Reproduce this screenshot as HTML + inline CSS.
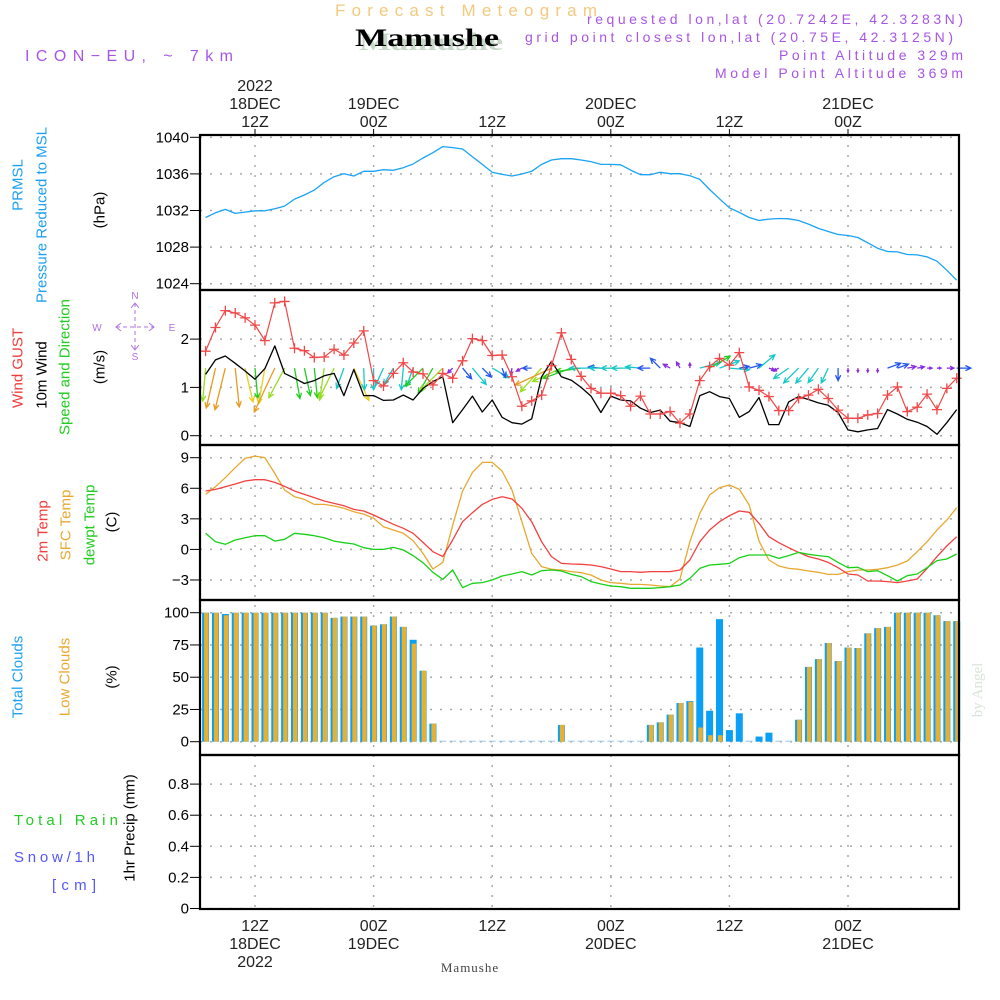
<!DOCTYPE html>
<html><head><meta charset="utf-8"><style>
html,body{margin:0;padding:0;background:#fff;width:1000px;height:1000px;overflow:hidden}
svg{display:block}
text{font-family:"Liberation Sans",sans-serif}
</style></head><body>
<svg id="chart" width="1000" height="1000" viewBox="0 0 1000 1000" xmlns="http://www.w3.org/2000/svg">
<g>
<text x="335" y="16" font-size="17" fill="#f2c97e" textLength="262" lengthAdjust="spacing">Forecast Meteogram</text>
<text x="429" y="48" font-size="25" font-weight="bold" text-anchor="middle" fill="#c8d8c8" style="font-family:'Liberation Serif',serif" textLength="144" lengthAdjust="spacingAndGlyphs" dx="2" dy="2">Mamushe</text>
<text x="427" y="46" font-size="25" font-weight="bold" text-anchor="middle" fill="#000" style="font-family:'Liberation Serif',serif" textLength="144" lengthAdjust="spacingAndGlyphs">Mamushe</text>
<text x="25" y="61" font-size="16" fill="#a855e6" textLength="208" lengthAdjust="spacing">ICON−EU, ~ 7km</text>
<text x="963" y="24" font-size="14" fill="#a855e6" text-anchor="end" textLength="376" lengthAdjust="spacing">requested lon,lat (20.7242E, 42.3283N)</text>
<text x="953" y="42" font-size="14" fill="#a855e6" text-anchor="end" textLength="428" lengthAdjust="spacing">grid point closest lon,lat (20.75E, 42.3125N)</text>
<text x="963" y="60" font-size="14" fill="#a855e6" text-anchor="end" textLength="184" lengthAdjust="spacing">Point Altitude 329m</text>
<text x="963" y="78" font-size="14" fill="#a855e6" text-anchor="end" textLength="248" lengthAdjust="spacing">Model Point Altitude 369m</text>
</g>
<g font-size="15">
<text transform="translate(18,185) rotate(-90)" text-anchor="middle" dominant-baseline="central" fill="#1ea0f0">PRMSL</text>
<text transform="translate(42,215) rotate(-90)" text-anchor="middle" dominant-baseline="central" fill="#1ea0f0">Pressure Reduced to MSL</text>
<text transform="translate(100,210) rotate(-90)" text-anchor="middle" dominant-baseline="central" fill="#000">(hPa)</text>
<text transform="translate(18,368) rotate(-90)" text-anchor="middle" dominant-baseline="central" fill="#f03c3c">Wind GUST</text>
<text transform="translate(42,375) rotate(-90)" text-anchor="middle" dominant-baseline="central" fill="#000">10m Wind</text>
<text transform="translate(65,367) rotate(-90)" text-anchor="middle" dominant-baseline="central" fill="#22cc22">Speed and Direction</text>
<text transform="translate(100,367) rotate(-90)" text-anchor="middle" dominant-baseline="central" fill="#000">(m/s)</text>
<text transform="translate(43,531) rotate(-90)" text-anchor="middle" dominant-baseline="central" fill="#f03c3c">2m Temp</text>
<text transform="translate(66,525) rotate(-90)" text-anchor="middle" dominant-baseline="central" fill="#e8a830">SFC Temp</text>
<text transform="translate(90,525) rotate(-90)" text-anchor="middle" dominant-baseline="central" fill="#22cc22">dewpt Temp</text>
<text transform="translate(112,522) rotate(-90)" text-anchor="middle" dominant-baseline="central" fill="#000">(C)</text>
<text transform="translate(18,677) rotate(-90)" text-anchor="middle" dominant-baseline="central" fill="#1ea0f0">Total Clouds</text>
<text transform="translate(65,677) rotate(-90)" text-anchor="middle" dominant-baseline="central" fill="#e8a830">Low Clouds</text>
<text transform="translate(112,677) rotate(-90)" text-anchor="middle" dominant-baseline="central" fill="#000">(%)</text>
<text x="14" y="825" fill="#22cc22" textLength="104" lengthAdjust="spacing">Total   Rain</text>
<text x="14" y="862" fill="#5555ff" textLength="81" lengthAdjust="spacing">Snow/1h</text>
<text x="52" y="890" fill="#5555ff" textLength="44" lengthAdjust="spacing">[cm]</text>
<text transform="translate(130,828) rotate(-90)" text-anchor="middle" dominant-baseline="central" fill="#000">1hr Precip (mm)</text>
</g>
<g stroke="#b070e0" stroke-width="1" fill="none">
<line x1="116" y1="327" x2="154" y2="327" stroke-dasharray="4,3"/>
<line x1="135" y1="303" x2="135" y2="350" stroke-dasharray="4,3"/>
<polyline points="121,323 116,327 121,331"/><polyline points="149,323 154,327 149,331"/>
<polyline points="131,308 135,303 139,308"/><polyline points="131,345 135,350 139,345"/>
</g>
<g font-size="10" fill="#b070e0">
<text x="135" y="299" text-anchor="middle">N</text>
<text x="135" y="360" text-anchor="middle">S</text>
<text x="97" y="331" text-anchor="middle">W</text>
<text x="172" y="331" text-anchor="middle">E</text>
</g>
<text x="470" y="972" font-size="13" text-anchor="middle" fill="#444" style="font-family:'Liberation Serif',serif" letter-spacing="1">Mamushe</text>
<text transform="translate(978,690) rotate(-90)" text-anchor="middle" dominant-baseline="central" font-size="15" fill="#d8e4d8" style="font-family:'Liberation Serif',serif">by Angel</text>
</svg>
<script>
// hours since 00Z 18DEC, 07Z .. 83Z
const hours = [];
for (let h = 7; h <= 83; h++) hours.push(h);
const pressure = [1031.24,1031.75,1032.12,1031.68,1031.82,1031.97,1031.97,1032.2,1032.48,1033.25,
1033.69,1034.23,1035.07,1035.69,1036.02,1035.77,1036.28,1036.28,1036.46,1036.39,
1036.68,1037.08,1037.74,1038.32,1038.98,1038.87,1038.72,1037.88,1037.04,1036.17,
1035.95,1035.77,1035.99,1036.28,1037.04,1037.52,1037.66,1037.66,1037.52,1037.34,
1037.04,1037.04,1037.0,1036.42,1035.91,1035.91,1036.17,1036.02,1036.02,1035.8,
1035.4,1034.3,1033.28,1032.3,1031.79,1031.24,1030.91,1031.06,1031.13,1031.09,
1030.91,1030.51,1030.04,1029.71,1029.38,1029.27,1029.05,1028.47,1027.88,1027.52,
1027.48,1027.19,1027.15,1026.93,1026.46,1025.47,1024.38];
const gust = [1.75,2.24,2.59,2.54,2.44,2.29,1.97,2.75,2.78,1.81,
1.76,1.62,1.63,1.79,1.67,1.92,2.17,1.14,1.03,1.29,
1.51,1.32,1.28,1.05,1.29,1.19,1.55,2.01,1.97,1.66,
1.67,1.22,0.61,0.72,0.84,1.45,2.13,1.58,1.23,0.98,
0.88,0.88,0.83,0.61,0.82,0.45,0.45,0.50,0.26,0.45,
1.14,1.43,1.6,1.46,1.72,1.01,0.94,0.81,0.52,0.52,
0.77,0.84,0.96,0.77,0.53,0.36,0.36,0.43,0.46,0.84,
1.01,0.5,0.59,0.86,0.54,0.98,1.19];
const wind = [1.27,1.57,1.65,1.5,1.34,1.17,1.39,1.86,1.29,1.19,
1.08,1.14,1.24,1.29,0.83,1.37,0.83,0.83,0.73,0.74,
0.84,0.74,0.98,1.12,1.22,0.27,0.54,0.82,0.49,0.74,
0.38,0.27,0.24,0.35,1.22,1.54,1.22,1.15,1.0,0.82,
0.48,0.82,0.74,0.72,0.57,0.48,0.53,0.30,0.27,0.19,
0.83,0.91,0.81,0.77,0.38,0.5,0.79,0.23,0.23,0.7,
0.81,0.75,0.68,0.63,0.48,0.12,0.08,0.12,0.15,0.54,
0.45,0.34,0.28,0.19,0.03,0.27,0.54];
// bearing the arrow points to (deg, 0 = up/north, 90 = right/east)
const windDir = [185,193,194,174,167,175,190,205,208,170,
168,174,188,206,200,155,178,180,205,210,
185,200,225,210,225,225,140,140,135,120,
160,190,240,270,222,245,245,250,262,270,
275,270,270,270,275,270,315,300,330,0,
75,60,70,95,80,75,50,110,240,235,
225,220,215,205,180,180,180,180,180,70,
70,80,80,90,90,90,90];
const temp2m = [5.73,5.89,6.15,6.42,6.71,6.84,6.84,6.58,6.19,5.73,
5.40,5.08,4.75,4.52,4.29,3.93,3.77,3.38,2.92,2.46,
2.07,1.58,0.69,-0.22,-0.71,0.92,2.72,3.6,4.42,4.91,
5.17,4.95,4.03,2.72,0.76,-0.71,-1.37,-1.43,-1.46,-1.53,
-1.69,-1.92,-2.18,-2.18,-2.25,-2.18,-2.18,-2.18,-2.02,-1.04,
0.76,1.9,2.72,3.31,3.77,3.64,2.56,1.25,0.66,0.17,
-0.29,-0.71,-0.94,-1.27,-1.79,-2.41,-2.51,-3.1,-3.1,-3.16,
-3.26,-3.1,-2.9,-1.86,-0.71,0.33,1.25];
const tempSfc = [5.4,6.15,7.04,8.02,8.93,9.16,9.0,7.46,5.83,5.17,
4.91,4.42,4.42,4.26,4.03,3.70,3.47,3.05,2.23,1.9,
1.58,0.86,-0.39,-1.92,-1.27,2.39,5.73,7.56,8.54,8.54,
7.69,5.83,2.72,-0.39,-1.69,-1.95,-2.02,-2.18,-2.28,-2.51,
-3.0,-3.26,-3.33,-3.43,-3.43,-3.49,-3.59,-3.66,-2.9,0.76,
3.54,5.34,6.06,6.32,5.89,4.36,0.82,-1.04,-1.63,-1.86,
-1.95,-2.12,-2.25,-2.45,-2.45,-2.18,-2.02,-2.02,-1.95,-1.79,
-1.53,-1.14,-0.22,0.76,1.9,2.88,4.09];
const dewpt = [1.58,0.76,0.5,0.92,1.15,1.35,1.35,0.82,0.99,1.58,
1.48,1.35,1.15,0.82,0.66,0.53,0.17,0.0,0.0,0.2,
-0.06,-0.61,-1.3,-2.25,-2.94,-2.02,-3.75,-3.33,-3.26,-3.0,
-2.61,-2.41,-2.18,-2.51,-2.09,-2.02,-2.12,-2.45,-2.67,-3.16,
-3.39,-3.59,-3.66,-3.82,-3.82,-3.82,-3.75,-3.66,-3.49,-2.84,
-1.86,-1.53,-1.46,-1.37,-0.81,-0.55,-0.55,-0.55,-0.88,-0.61,
-0.29,-0.48,-0.61,-0.71,-1.27,-1.79,-1.76,-2.18,-2.09,-2.58,
-3.1,-2.58,-2.41,-1.79,-1.1,-0.94,-0.45];
const totalClouds = [100,100,99,100,100,100,100,100,100,100,
100,100,100,96,97,97,97,90,91,97,
89,79,55,14,0,0,0,0,0,0,
0,0,0,0,0,0,13,0,0,0,
0,0,0,0,0,13,15,21,30,31.5,
73,24,95,9,22,0,4,7,0,0,
17,58,64,76.5,62.5,73,72.6,84,88,89,
100,100,100,100,98,93.5,93.5];
const lowClouds = [100,100,98,100,100,100,100,100,100,100,
100,100,100,96,97,97,97,90,91,97,
89,76,55,14,0,0,0,0,0,0,
0,0,0,0,0,0,13,0,0,0,
0,0,0,0,0,13,15,21,30,31,
11,5,5,0,0,0,0,0,0,0,
17,58,64,76.5,62.5,73,72.6,84,88,89,
100,100,100,100,98,93.5,93.5];
const precip = hours.map(() => 0);
const pressureTicks = [1024,1028,1032,1036,1040];
const windTicks = [0,1,2];
const tempTicks = [-3,0,3,6,9];
const cloudTicks = [0,25,50,75,100];
const precipTicks = [0,0.2,0.4,0.6,0.8];
const precipTickLabels = ['0','0.2','0.4','0.6','0.8'];
const timeTicks = [12,24,36,48,60,72];
const timeTopLabels = [['2022','18DEC','12Z'],['','19DEC','00Z'],['','','12Z'],['','20DEC','00Z'],['','','12Z'],['','21DEC','00Z']];
const timeBottomLabels = [['12Z','18DEC','2022'],['00Z','19DEC',''],['12Z','',''],['00Z','20DEC',''],['12Z','',''],['00Z','21DEC','']];

const NS = 'http://www.w3.org/2000/svg';
const svg = document.getElementById('chart');
function mk(tag, attrs, parent) {
  const e = document.createElementNS(NS, tag);
  for (const k in attrs) e.setAttribute(k, attrs[k]);
  (parent || svg).appendChild(e);
  return e;
}
const X0 = 200, X1 = 959;
function xh(h) { return 255 + (h - 12) * (848 - 255) / 60; }
const yP = v => 137.3 + (1040 - v) * 9.15;
const yW = v => 435.7 - v * 48.3;
const yT = v => 457.7 + (9 - v) * 10.19;
const yC = v => 741.7 - v * 1.29;
const yR = v => 908.5 - v * 155.5;
const panels = [[135,290],[290,445],[445,600],[600,755],[755,909]];

// grids
const grid = mk('g', {});


function hgrid(ticks, yf, labels, name) {
  const g = mk('g', {});
  
  
  ticks.forEach((t, i) => {
    const y = yf(t);
    const gl = mk('line', {x1: X0, x2: X1, y1: y, y2: y, stroke: '#aaa', 'stroke-width': 1.5, 'stroke-dasharray': '2,8'}, grid);
    
    
    const tk = mk('line', {x1: 190, x2: X0, y1: y, y2: y, stroke: '#000', 'stroke-width': 1}, g);
    
    
    const tx = mk('text', {x: 189, y: y + 5, 'font-size': 15, 'text-anchor': 'end', fill: '#000'}, g);
    
    
    tx.textContent = labels ? labels[i] : (t < 0 ? '−' + Math.abs(t) : String(t));
  });
}
hgrid(pressureTicks, yP, null, 'pressure');
hgrid(windTicks, yW, null, 'wind');
hgrid(tempTicks, yT, null, 'temp');
hgrid(cloudTicks, yC, null, 'cloud');
hgrid(precipTicks, yR, precipTickLabels, 'precip');
timeTicks.forEach((h, i) => {
  const x = xh(h);
  const vl = mk('line', {x1: x, x2: x, y1: 135, y2: 909, stroke: '#aaa', 'stroke-width': 1.5, 'stroke-dasharray': '2,8'}, grid);
  
  
  const tt = mk('line', {x1: x, x2: x, y1: 129, y2: 135, stroke: '#000'});
  
  
  timeTopLabels[i].forEach((s, j) => {
    if (!s) return;
    const t = mk('text', {x: x, y: 91 + j * 18, 'font-size': 16, 'text-anchor': 'middle', fill: '#222'});
    
    
    t.textContent = s;
  });
  timeBottomLabels[i].forEach((s, j) => {
    if (!s) return;
    const t = mk('text', {x: x, y: 931 + j * 18, 'font-size': 16, 'text-anchor': 'middle', fill: '#222'});
    
    
    t.textContent = s;
  });
});

function line(vals, yf, color, name, w) {
  const pts = vals.map((v, i) => xh(hours[i]).toFixed(1) + ',' + yf(v).toFixed(1)).join(' ');
  const p = mk('polyline', {points: pts, fill: 'none', stroke: color, 'stroke-width': w || 1.3, 'stroke-linejoin': 'round'});
  
  
  return p;
}
line(pressure, yP, '#19a3f5', 'pressure-line');

// clouds
const cg = mk('g', {});


hours.forEach((h, i) => {
  const x = xh(h);
  if (totalClouds[i] > 0) {
    const b = mk('rect', {x: x - 3.5, y: yC(totalClouds[i]), width: 7, height: yC(0) - yC(totalClouds[i]), fill: '#0aa0f5'}, cg);
    
    
  }
  if (lowClouds[i] > 0) {
    const b = mk('rect', {x: x - 1.5, y: yC(lowClouds[i]), width: 4.5, height: yC(0) - yC(lowClouds[i]), fill: '#e8b030'}, cg);
    
    
  }
  if (totalClouds[i] === 0) {
    const b = mk('rect', {x: x - 3.5, y: yC(0) - 1, width: 7, height: 1, fill: '#9cc8e8'}, cg);
    
    
  }
  if (precip[i] > 0) {
    const r = mk('rect', {x: x - 3, y: yR(precip[i]), width: 6, height: yR(0) - yR(precip[i]), fill: '#22cc22'});
    
    
  }
});

// temperatures
line(tempSfc, yT, '#e8a830', 'sfc-temp-line');
line(temp2m, yT, '#f24040', 't2m-line');
line(dewpt, yT, '#18d018', 'dewpt-line');

// wind
function windColor(s) {
  if (s < 0.35) return '#8a2be2';
  if (s < 0.55) return '#2255ee';
  if (s < 0.9) return '#18c8c8';
  if (s < 1.22) return '#22cc22';
  if (s < 1.32) return '#99dd22';
  if (s < 1.5) return '#e8d020';
  return '#e89a20';
}
const wg = mk('g', {});


const yBase = yW(1.4);
hours.forEach((h, i) => {
  const L = Math.max(4, wind[i] * 26);
  const b = windDir[i] * Math.PI / 180;
  const x0 = xh(h), y0 = yBase;
  const x1 = x0 + Math.sin(b) * L, y1 = y0 - Math.cos(b) * L;
  const c = windColor(wind[i]);
  const hl = Math.min(6, L * 0.6);
  const a1 = b + Math.PI - 0.45, a2 = b + Math.PI + 0.45;
  const d = `M${x0.toFixed(1)},${y0.toFixed(1)} L${x1.toFixed(1)},${y1.toFixed(1)} M${(x1 + Math.sin(a1) * hl).toFixed(1)},${(y1 - Math.cos(a1) * hl).toFixed(1)} L${x1.toFixed(1)},${y1.toFixed(1)} L${(x1 + Math.sin(a2) * hl).toFixed(1)},${(y1 - Math.cos(a2) * hl).toFixed(1)}`;
  const p = mk('path', {d: d, stroke: c, 'stroke-width': 1.3, fill: 'none'}, wg);
  
  
});
line(wind, yW, '#000', 'wind-speed-line', 1.3);
line(gust, yW, '#f04848', 'gust-line', 1.2);
const gm = mk('g', {});


gust.forEach((v, i) => {
  const x = xh(hours[i]), y = yW(v);
  const p = mk('path', {d: `M${x - 5},${y} h10 M${x},${y - 5} v10`, stroke: '#f04848', 'stroke-width': 1.3}, gm);
  
  
});

// frames
const fr = mk('g', {});


panels.forEach((p, i) => {
  const r = mk('rect', {x: X0, y: p[0], width: X1 - X0, height: p[1] - p[0], fill: 'none', stroke: '#000', 'stroke-width': 2.2}, fr);
  
  
});
</script>
</body></html>
